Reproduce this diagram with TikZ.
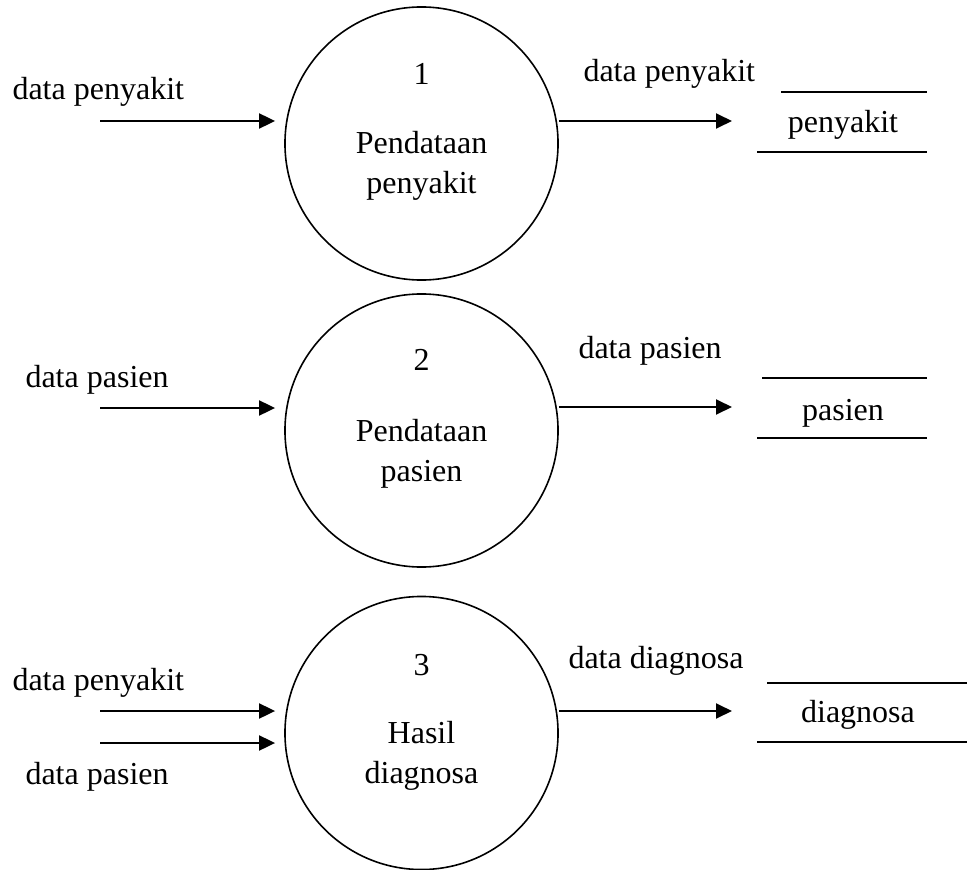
\documentclass[tikz,border=0pt]{standalone}
\usepackage{fontspec}
\setmainfont{Liberation Serif}
\usetikzlibrary{arrows.meta,positioning}

\begin{document}
\begin{tikzpicture}[x=0.375pt,y=-0.375pt,font=\fontsize{12}{15}\selectfont]
  \tikzstyle{proses}=[draw,circle,line width=0.6pt,minimum size=102.4pt,inner sep=0pt]
  \tikzstyle{flow}=[-{Triangle[length=6pt,width=5.6pt]},line width=0.8pt]
  \tikzstyle{masuk}=[flow,shorten >=3.4pt]
  \tikzstyle{lbl}=[anchor=base west,inner sep=0pt]
  \tikzstyle{judul}=[anchor=base,inner sep=0pt,align=center]
  \tikzstyle{garis}=[line width=0.8pt]
  \useasboundingbox (0,0) rectangle (967,870);

  \node[proses] (p1) at (421.5,143.5) {};
  \node[proses] (p2) at (421.5,430.5) {};
  \node[proses] (p3) at (421.5,733) {};

  \node[judul] (n1) at (421.5,85) {1};
  \node[judul] (t1) at (421.5,194) {Pendataan\\penyakit};
  \node[judul] (n2) at (421.5,370) {2};
  \node[judul] (t2) at (421.5,481) {Pendataan\\pasien};
  \node[judul] (n3) at (421.5,675) {3};
  \node[judul] (t3) at (421.5,783) {Hasil\\diagnosa};

  \node[judul] (s1) at (843,133) {penyakit};
  \node[judul] (s2) at (843,420) {pasien};
  \node[judul] (s3) at (858,722) {diagnosa};
  \draw[garis] (781,92) -- (927,92) (757,152) -- (927,152);
  \draw[garis] (762,378) -- (927,378) (757,438) -- (927,438);
  \draw[garis] (767,683) -- (967,683) (757,742) -- (967,742);

  \coordinate (i1) at (100,121);
  \coordinate (i2) at (100,408);
  \coordinate (i3) at (100,711);
  \coordinate (i4) at (100,743);
  \coordinate (o1) at (732,121);
  \coordinate (o2) at (732,407);
  \coordinate (o3) at (732,711);

  \draw[masuk] (i1) -- (i1 -| p1.west);
  \draw[masuk] (i2) -- (i2 -| p2.west);
  \draw[masuk] (i3) -- (i3 -| p3.west);
  \draw[masuk] (i4) -- (i4 -| p3.west);
  \draw[flow] (o1 -| p1.east) -- (o1);
  \draw[flow] (o2 -| p2.east) -- (o2);
  \draw[flow] (o3 -| p3.east) -- (o3);

  \node[lbl] (l1) at (12,100) {data penyakit};
  \node[lbl] (l2) at (25,387) {data pasien};
  \node[lbl] (l3) at (12,690) {data penyakit};
  \node[lbl] (l4) at (25,784) {data pasien};
  \node[lbl] (r1) at (583,82) {data penyakit};
  \node[lbl] (r2) at (578,358) {data pasien};
  \node[lbl] (r3) at (568,668) {data diagnosa};
\end{tikzpicture}
\end{document}
